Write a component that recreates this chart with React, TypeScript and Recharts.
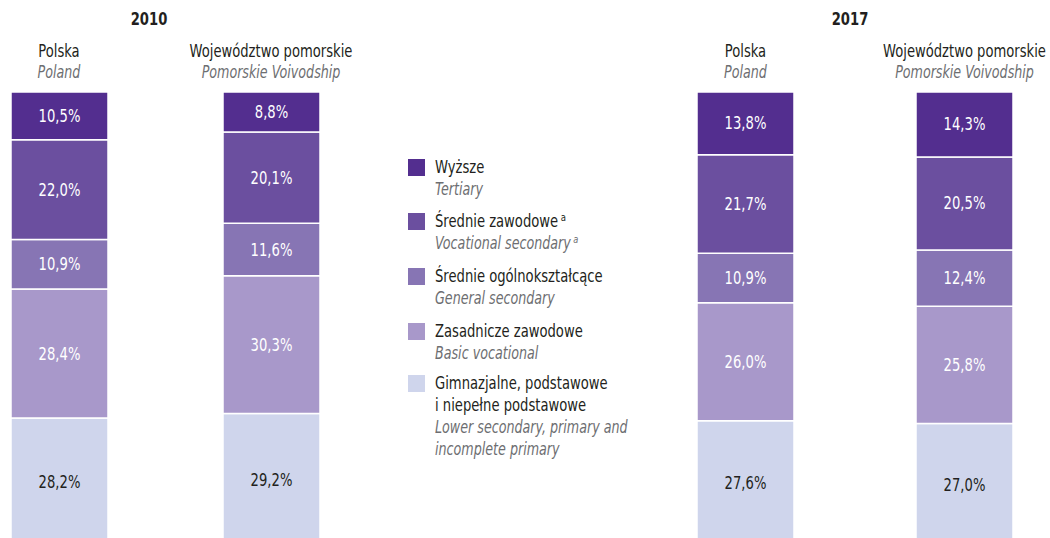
import { BarChart, Bar, XAxis, YAxis, LabelList } from "recharts";

const FONT = "'DejaVu Sans Condensed', 'Noto Sans', sans-serif";
const DARK = "#231f20";
const GREY = "#6d6e71";
// the source font is a narrow one, so squeeze the condensed face a bit more
const SQUEEZE = 0.86;
const SQUEEZE_IT = 0.83;

const regionsPl = ["Polska", "Województwo pomorskie"];
const regionsEn = ["Poland", "Pomorskie Voivodship"];

// shares in %, order: Polska, pomorskie
const tertiary2010 = [10.5, 8.8];
const vocSecondary2010 = [22.0, 20.1];
const genSecondary2010 = [10.9, 11.6];
const basicVoc2010 = [28.4, 30.3];
const lowerSecondary2010 = [28.2, 29.2];

const tertiary2017 = [13.8, 14.3];
const vocSecondary2017 = [21.7, 20.5];
const genSecondary2017 = [10.9, 12.4];
const basicVoc2017 = [26.0, 25.8];
const lowerSecondary2017 = [27.6, 27.0];

// legend order (top -> bottom of the bar)
const SERIES = [
  { key: "tertiary", pl: ["Wyższe"], en: ["Tertiary"], color: "#532e8f", text: "#fff" },
  { key: "vocSec", pl: ["Średnie zawodowe"], en: ["Vocational secondary"], sup: true, color: "#6b4f9f", text: "#fff" },
  { key: "genSec", pl: ["Średnie ogólnokształcące"], en: ["General secondary"], color: "#8775b4", text: "#fff" },
  { key: "basicVoc", pl: ["Zasadnicze zawodowe"], en: ["Basic vocational"], color: "#a898ca", text: "#fff" },
  {
    key: "lower",
    pl: ["Gimnazjalne, podstawowe", "i niepełne podstawowe"],
    en: ["Lower secondary, primary and", "incomplete primary"],
    color: "#cfd5ec",
    text: DARK,
  },
];

function buildRows(t: number[], v: number[], g: number[], b: number[], l: number[]) {
  return regionsPl.map((region, i) => ({
    region,
    en: regionsEn[i],
    tertiary: t[i],
    vocSec: v[i],
    genSec: g[i],
    basicVoc: b[i],
    lower: l[i],
  }));
}

const data2010 = buildRows(tertiary2010, vocSecondary2010, genSecondary2010, basicVoc2010, lowerSecondary2010);
const data2017 = buildRows(tertiary2017, vocSecondary2017, genSecondary2017, basicVoc2017, lowerSecondary2017);

const fmt = (v: any) => `${Number(v).toFixed(1).replace(".", ",")}%`;

function RegionTick(props: any) {
  const { x, y, payload, index } = props;
  return (
    <g>
      <text
        transform={`translate(${x},${y - 35}) scale(${SQUEEZE},1)`}
        textAnchor="middle"
        fontSize={17}
        fill={DARK}
        fontFamily={FONT}
      >
        {payload.value}
      </text>
      <text
        transform={`translate(${x},${y - 14}) scale(${SQUEEZE_IT},1)`}
        textAnchor="middle"
        fontSize={17}
        fill={GREY}
        fontStyle="italic"
        fontFamily={FONT}
      >
        {regionsEn[index]}
      </text>
    </g>
  );
}

function makeLabel(color: string) {
  return (p: any) => {
    const cx = Number(p.x) + Number(p.width) / 2;
    const cy = Number(p.y) + Number(p.height) / 2 + 6;
    return (
      <text
        transform={`translate(${cx},${cy}) scale(${SQUEEZE},1)`}
        textAnchor="middle"
        fontSize={17}
        fill={color}
        fontFamily={FONT}
      >
        {fmt(p.value)}
      </text>
    );
  };
}

function YearChart({ data, left, width }: { data: any[]; left: number; width: number }) {
  const stackOrder = [...SERIES].reverse();
  return (
    <div style={{ position: "absolute", left, top: 0 }}>
      <BarChart
        width={width}
        height={546}
        data={data}
        margin={{ top: 42, right: 0, left: 0, bottom: 0 }}
        barSize={97}
      >
        <XAxis
          dataKey="region"
          orientation="top"
          height={50}
          axisLine={false}
          tickLine={false}
          tickSize={0}
          tickMargin={0}
          interval={0}
          tick={<RegionTick />}
        />
        <YAxis hide domain={[0, 100]} />
        {stackOrder.map((s) => (
          <Bar
            key={s.key}
            dataKey={s.key}
            stackId="a"
            fill={s.color}
            stroke="#fff"
            strokeWidth={1.5}
            isAnimationActive={false}
          >
            <LabelList dataKey={s.key} content={makeLabel(s.text)} />
          </Bar>
        ))}
      </BarChart>
    </div>
  );
}

const lineStyle = (italic: boolean): any => ({
  color: italic ? GREY : DARK,
  fontStyle: italic ? "italic" : "normal",
  transform: `scaleX(${italic ? SQUEEZE_IT : SQUEEZE})`,
  transformOrigin: "left center",
  whiteSpace: "nowrap",
  height: 22,
});

const supStyle: any = { fontSize: 11, marginLeft: 3, position: "relative", top: -6 };

function Legend() {
  const rowTops = [156, 210, 265, 320, 372];
  return (
    <div style={{ position: "absolute", left: 408, top: 0, fontFamily: FONT, fontSize: 17 }}>
      {SERIES.map((s, i) => (
        <div key={s.key} style={{ position: "absolute", top: rowTops[i], left: 0, width: 260 }}>
          <div style={{ position: "absolute", left: 0, top: 3, width: 17, height: 17, background: s.color }} />
          <div style={{ position: "absolute", left: 27, top: 0, lineHeight: "22px" }}>
            {s.pl.map((t, j) => (
              <div key={j} style={lineStyle(false)}>
                {t}
                {s.sup && j === s.pl.length - 1 ? <span style={supStyle}>a</span> : null}
              </div>
            ))}
            {s.en.map((t, j) => (
              <div key={j} style={lineStyle(true)}>
                {t}
                {s.sup && j === s.en.length - 1 ? <span style={supStyle}>a</span> : null}
              </div>
            ))}
          </div>
        </div>
      ))}
    </div>
  );
}

const yearStyle: any = {
  position: "absolute",
  top: 9,
  fontFamily: FONT,
  fontWeight: 700,
  fontSize: 17,
  color: DARK,
  width: 80,
  textAlign: "center",
  transform: `scaleX(${SQUEEZE})`,
};

export default function App() {
  return (
    <div style={{ position: "absolute", left: 0, top: 0, width: 1050, height: 538, overflow: "hidden", background: "#fff" }}>
      <div style={{ ...yearStyle, left: 109 }}>2010</div>
      <div style={{ ...yearStyle, left: 810 }}>2017</div>
      <YearChart data={data2010} left={-47} width={424} />
      <YearChart data={data2017} left={636} width={438} />
      <Legend />
    </div>
  );
}
